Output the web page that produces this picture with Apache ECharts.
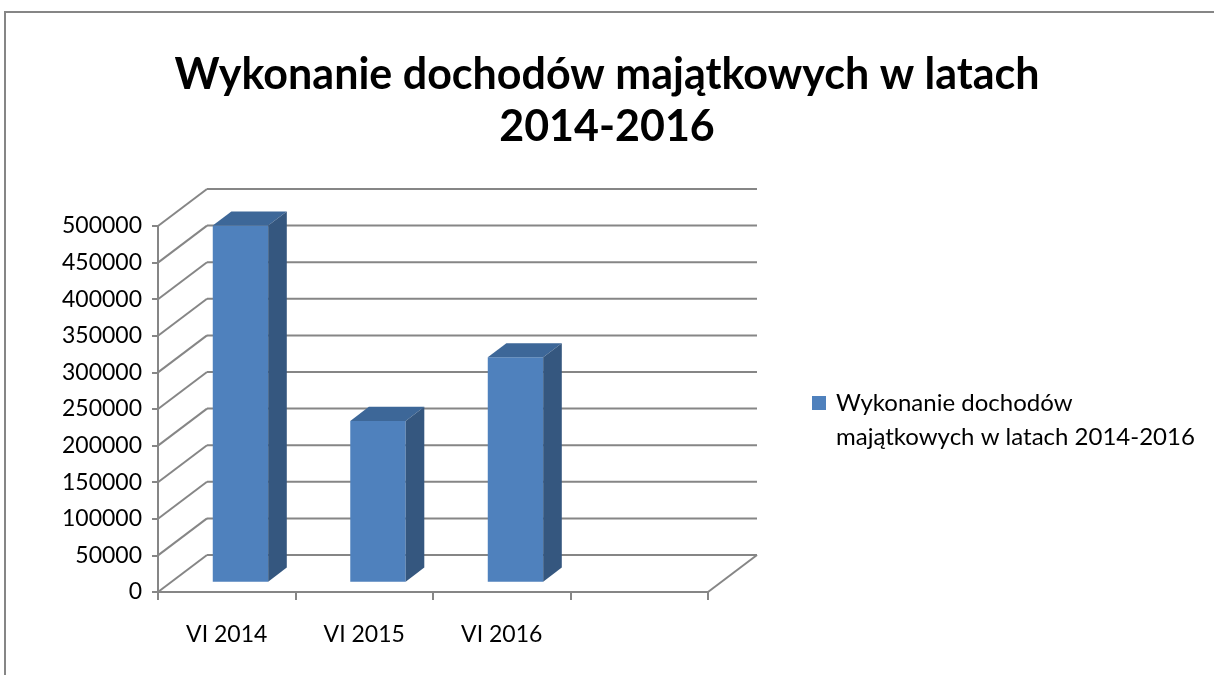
<!DOCTYPE html>
<html>
<head>
	<meta charset="utf-8">
	<title>Wykonanie dochodów majątkowych</title>
	<script src="https://cdn.jsdelivr.net/npm/echarts@6/dist/echarts.min.js"></script>
	<style>
		html, body { margin: 0; padding: 0; background: #fff; }
		#echarts { width: 1214px; height: 675px; }
	</style>
</head>
<body>
	<div id="echarts"></div>
	<script>
	// dane
	var categories = ['VI 2014', 'VI 2015', 'VI 2016', ''];
	var values = [486500, 219600, 306400];
	var yTicks = [0, 50000, 100000, 150000, 200000, 250000, 300000, 350000, 400000, 450000, 500000];
	var seriesName = 'Wykonanie dochodów majątkowych w latach 2014-2016';

	var myChart = echarts.init(document.getElementById('echarts'));

	// przesuniecie "glebi" 3D (sciana tylna) i polozenie slupka w glebi
	var DX = 49, DY = -37;
	var F0 = 0.28, F1 = 0.66;
	var gridColor = '#868686';
	var font = 'Lato';

	function renderWalls(params, api) {
		var cs = params.coordSys;
		var y = api.coord([0, api.value(1)])[1];
		var x0 = cs.x, x1 = cs.x + cs.width;
		var st = { stroke: gridColor, lineWidth: 2 };
		var children = [
			{ type: 'line', shape: { x1: x0, y1: y, x2: x0 + DX, y2: y + DY }, style: st },
			{ type: 'line', shape: { x1: x0 + DX, y1: y + DY, x2: x1 + DX, y2: y + DY }, style: st }
		];
		if (api.value(1) === 0) {
			children.push({ type: 'line', shape: { x1: x1, y1: y, x2: x1 + DX, y2: y + DY }, style: st });
		}
		return { type: 'group', children: children };
	}

	function renderBars(params, api) {
		var idx = api.value(0);
		var base = api.coord([idx, 0]);
		var top = api.coord([idx, api.value(1)]);
		var bw = api.size([1, 0])[0] * 0.403;
		var xl = base[0] - bw / 2 + F0 * DX, xr = xl + bw;
		var yt = top[1] + F0 * DY, yb = base[1] + F0 * DY;
		var d = (F1 - F0) * DX, e = (F1 - F0) * DY;
		return {
			type: 'group',
			children: [
				{ type: 'rect', shape: { x: xl, y: yt, width: bw, height: yb - yt }, style: { fill: '#4F81BD' } },
				{ type: 'polygon', shape: { points: [[xl, yt], [xr, yt], [xr + d, yt + e], [xl + d, yt + e]] }, style: { fill: '#3D6798' } },
				{ type: 'polygon', shape: { points: [[xr, yt], [xr + d, yt + e], [xr + d, yb + e], [xr, yb]] }, style: { fill: '#35577F' } }
			]
		};
	}

	var option = {
		animation: false,
		title: {
			text: 'Wykonanie dochodów majątkowych w latach\n2014-2016',
			left: 'center',
			top: 44,
			textStyle: {
				fontFamily: font,
				fontSize: 43,
				fontWeight: 'bold',
				color: '#000',
				lineHeight: 52
			}
		},
		graphic: [{
			type: 'rect',
			shape: { x: 5, y: 12, width: 1300, height: 700 },
			style: { fill: 'none', stroke: gridColor, lineWidth: 2 },
			silent: true
		}],
		legend: {
			left: 812,
			top: 386,
			padding: 0,
			orient: 'vertical',
			// kwadrat u gory wysokiej ikony, zeby stal na wysokosci pierwszej linii tekstu
			icon: 'path://M0,0L14,0L14,14L0,14Z M18.99,47.99L19,47.99L19,48Z',
			itemWidth: 19,
			itemHeight: 48,
			itemGap: 8,
			data: [seriesName],
			formatter: function () {
				return 'Wykonanie dochodów\nmajątkowych w latach 2014-2016';
			},
			textStyle: {
				fontFamily: font,
				fontSize: 24,
				color: '#000',
				lineHeight: 34
			}
		},
		grid: {
			left: 158,
			top: 226,
			width: 550,
			height: 366
		},
		xAxis: {
			type: 'category',
			data: categories,
			axisLine: { lineStyle: { color: gridColor, width: 2 } },
			axisTick: { show: true, length: 8, lineStyle: { color: gridColor, width: 2 } },
			axisLabel: { margin: 31, fontFamily: font, fontSize: 23, color: '#000' },
			splitLine: { show: false }
		},
		yAxis: {
			type: 'value',
			min: 0,
			max: 500000,
			interval: 50000,
			axisLine: { show: true, lineStyle: { color: gridColor, width: 2 } },
			axisTick: { show: true, length: 6, lineStyle: { color: gridColor, width: 2 } },
			axisLabel: {
				margin: 16,
				fontFamily: font,
				fontSize: 23,
				color: '#000',
				formatter: function (v) { return String(v); }
			},
			splitLine: { show: false }
		},
		series: [
			{
				type: 'custom',
				name: 'walls',
				silent: true,
				z: 1,
				renderItem: renderWalls,
				encode: { x: 0, y: 1 },
				data: yTicks.map(function (v) { return [0, v]; })
			},
			{
				type: 'custom',
				name: seriesName,
				z: 3,
				itemStyle: { color: '#4F81BD' },
				renderItem: renderBars,
				encode: { x: 0, y: 1 },
				data: values.map(function (v, i) { return [i, v]; })
			}
		]
	};

	myChart.setOption(option);
	</script>
</body>
</html>
